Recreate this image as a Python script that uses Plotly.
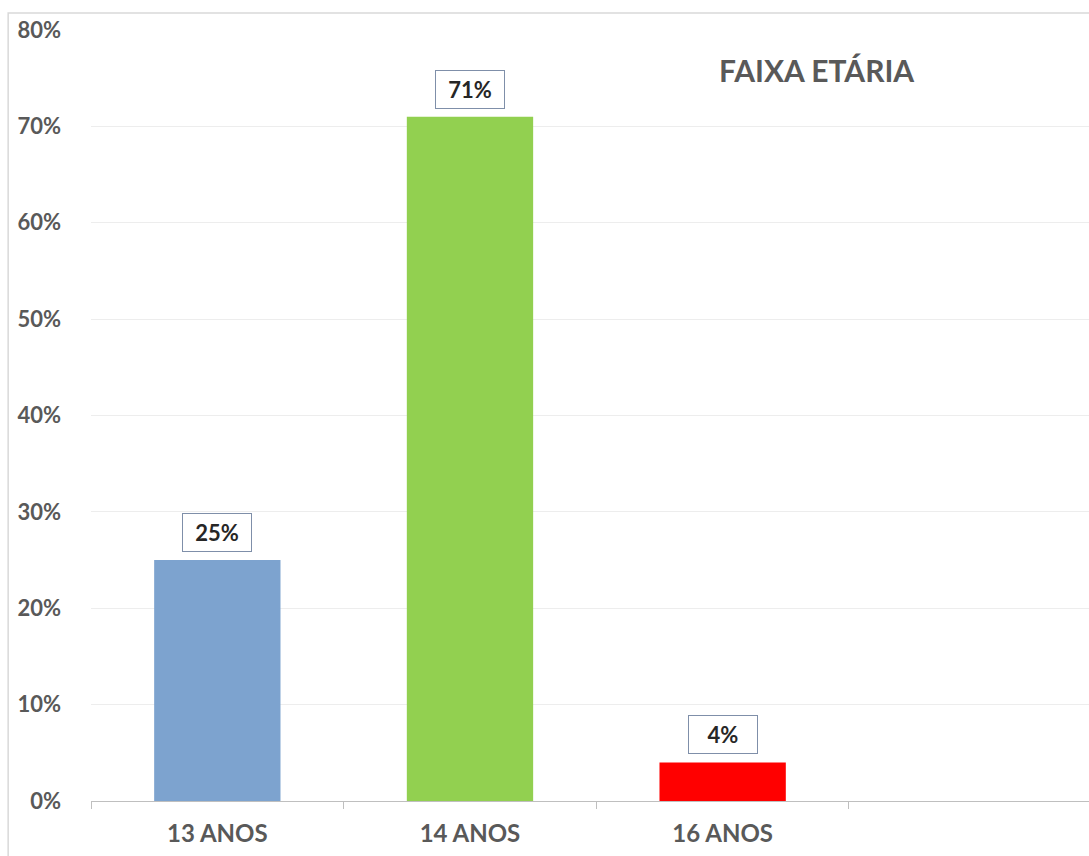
import plotly.graph_objects as go

# Age groups and their share of respondents
categories = ["13 ANOS", "14 ANOS", "16 ANOS"]
shares = [0.25, 0.71, 0.04]
bar_colors = ["#7DA3CF", "#92D050", "#FF0000"]
label_texts = ["25%", "71%", "4%"]
# an extra empty slot keeps the same spacing to the right
axis_categories = categories + [" "]

title_text = "FAIXA ETÁRIA"
font_family = "Lato, 'Open Sans', sans-serif"
grey_text = "#595959"

fig = go.Figure()
fig.add_trace(go.Bar(
    x=categories,
    y=shares,
    marker=dict(color=bar_colors, line=dict(width=0)),
    width=0.5,
    hoverinfo="skip",
))

# value boxes above each bar
for cat, val, txt in zip(categories, shares, label_texts):
    fig.add_annotation(
        x=cat, y=val, xref="x", yref="y",
        text=f"<b>{txt}</b>",
        showarrow=False,
        yanchor="bottom",
        yshift=8,
        font=dict(family=font_family, size=22, color="#262626"),
        bgcolor="white",
        bordercolor="#7F8FA9",
        borderwidth=1,
        borderpad=5,
        width=58,
    )

fig.add_annotation(
    x=0.727, y=0.948, xref="paper", yref="paper",
    text=f"<b>{title_text}</b>",
    showarrow=False,
    xanchor="center", yanchor="middle",
    font=dict(family=font_family, size=30, color=grey_text),
)

# outer chart frame
fig.add_shape(
    type="rect", xref="paper", yref="paper",
    x0=-0.083, x1=1.2, y0=-0.3, y1=1.022,
    line=dict(color="#D9D9D9", width=1.5),
    fillcolor="rgba(0,0,0,0)",
    layer="below",
)

fig.update_layout(
    width=1089, height=856,
    margin=dict(l=91, r=0, t=30, b=55),
    paper_bgcolor="white",
    plot_bgcolor="white",
    showlegend=False,
    bargap=0.5,
    xaxis=dict(
        type="category",
        categoryorder="array",
        categoryarray=axis_categories,
        range=[-0.5, 3.45],
        tickson="boundaries",
        ticks="outside",
        ticklen=7,
        tickcolor="#BFBFBF",
        showline=True,
        linecolor="#BFBFBF",
        linewidth=1,
        showgrid=False,
        tickfont=dict(family=font_family, size=24, color=grey_text, weight="bold"),
        ticklabelstandoff=11,
        fixedrange=True,
    ),
    yaxis=dict(
        range=[0, 0.8],
        tickvals=[0, 0.1, 0.2, 0.3, 0.4, 0.5, 0.6, 0.7, 0.8],
        tickformat=".0%",
        showgrid=True,
        gridcolor="#EDEDED",
        gridwidth=1,
        zeroline=False,
        showline=False,
        ticks="",
        ticklabelstandoff=29,
        tickfont=dict(family=font_family, size=22, color=grey_text, weight="bold"),
        fixedrange=True,
    ),
)

fig.write_html("out.html")
